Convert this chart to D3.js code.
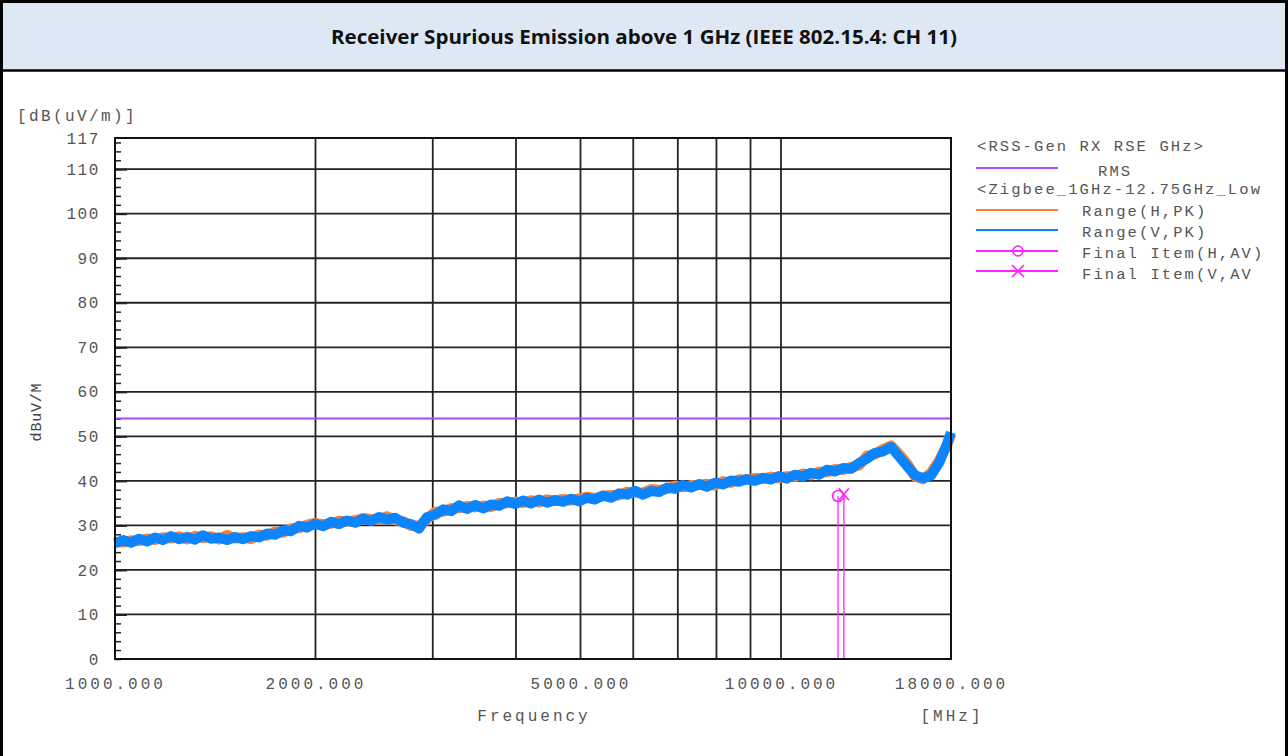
<!DOCTYPE html>
<html>
<head>
<meta charset="utf-8">
<script src="https://cdn.jsdelivr.net/npm/d3@7"></script>
<style>
body{margin:0;background:#fff;}
svg{display:block;}
.mono{font-family:"Liberation Mono","DejaVu Sans Mono",monospace;fill:#555;}
</style>
</head>
<body>
<svg id="svg0" width="1288" height="756"></svg>
<script>
// frequencies in MHz (sweep points)
var freqs=[1000,1028,1057,1086,1117,1148,1180,1213,1247,1283,1319,1356,1394,1433,1473,1514,1557,1600,1645,1692,
1739,1788,1838,1889,1942,1997,2053,2110,2169,2230,2294,2358,2424,2492,2562,2634,2708,2784,2862,2942,
3025,3110,3197,3286,3378,3473,3571,3671,3774,3879,3987,4099,4214,4332,4454,4578,4707,4839,4974,5114,
5257,5404,5556,5712,5872,6036,6206,6380,6558,6742,6932,7126,7326,7531,7742,7959,8183,8412,8648,8890,
9141,9397,9661,9931,10210,10496,10790,11093,11404,11724,12054,12392,12739,13096,13463,13841,14229,14628,15038,15460,
15893,16339,16797,17268,17755,18000];
// Range(V,PK) dBuV/m
var rangeV=[26.0,26.7,26.1,27.0,26.4,27.3,26.7,27.6,26.9,27.4,26.8,27.8,27.0,27.3,26.7,27.4,26.9,27.6,27.3,28.2,
27.9,28.9,28.7,29.9,29.5,30.4,29.8,30.8,30.3,31.1,30.6,31.5,31.0,31.9,31.3,31.7,30.6,30.3,29.3,31.9,
32.4,33.6,33.2,34.5,33.7,34.6,33.8,34.7,34.4,35.4,34.8,35.6,34.9,35.8,35.1,35.7,35.3,36.0,35.4,36.2,
35.8,36.7,36.2,37.2,36.9,37.8,36.9,37.7,37.5,38.5,38.2,39.1,38.5,39.3,38.7,39.6,39.2,40.1,39.8,40.4,
40.0,40.7,40.3,41.1,40.5,41.4,41.0,41.8,41.4,42.5,42.1,42.9,42.7,44.0,45.0,46.3,46.6,47.6,45.5,43.3,
41.3,40.6,41.2,44.0,48.3,50.9];
// Range(H,PK) dBuV/m
var rangeH=[26.3,26.2,26.6,26.5,27.0,26.8,27.3,27.1,27.5,26.9,27.6,27.2,27.5,26.9,27.8,27.1,27.3,27.0,27.9,27.7,
28.6,28.4,29.3,29.4,30.1,30.5,30.2,30.4,31.0,30.9,31.1,31.6,31.4,31.3,32.0,31.2,30.9,29.9,29.9,31.4,
33.0,33.1,33.8,33.9,34.3,34.1,34.4,34.2,35.0,35.0,35.3,35.1,35.6,35.2,35.8,35.5,35.9,35.6,36.0,36.4,
36.1,36.6,36.8,36.8,37.5,37.4,37.3,38.1,37.9,38.2,38.9,38.6,39.0,39.1,39.3,39.0,39.9,39.6,40.3,40.2,
40.6,40.5,40.9,40.6,41.0,41.0,41.6,41.3,42.0,42.0,42.6,42.5,43.1,43.5,45.6,46.0,47.1,47.9,46.0,43.9,
41.0,40.4,41.8,44.5,48.0,50.6];
var limitRMS=54;
var finalH={f:12180,v:36.6};
var finalV={f:12430,v:37.0};
var yTicks=[0,10,20,30,40,50,60,70,80,90,100,110,117];
var xTicks=[1000,2000,5000,10000,18000];
var xGrid=[2000,3000,4000,5000,6000,7000,8000,9000,10000];
var yGrid=[10,20,30,40,50,60,70,80,90,100,110];

var svg=d3.select("#svg0");
var x=d3.scaleLog().domain([1000,18000]).range([115,951]);
var y=d3.scaleLinear().domain([0,117]).range([659,138]);

// title band
svg.append("rect").attr("x",2).attr("y",2).attr("width",1284).attr("height",68).style("fill","#dde8f4");
svg.append("text").attr("x",644).attr("y",44).attr("text-anchor","middle")
   .attr("textLength",626).attr("lengthAdjust","spacingAndGlyphs")
   .style("font-family","'Open Sans',sans-serif").style("font-weight","bold").style("font-size","19.5px").style("fill","#111")
   .text("Receiver Spurious Emission above 1 GHz (IEEE 802.15.4: CH 11)");
svg.append("line").attr("x1",0).attr("x2",1288).attr("y1",1.5).attr("y2",1.5).style("stroke","#000").style("stroke-width",3);
svg.append("line").attr("x1",0).attr("x2",1288).attr("y1",70.5).attr("y2",70.5).style("stroke","#000").style("stroke-width",2.5);
svg.append("line").attr("x1",1.5).attr("x2",1.5).attr("y1",0).attr("y2",756).style("stroke","#000").style("stroke-width",3);
svg.append("line").attr("x1",1286.5).attr("x2",1286.5).attr("y1",0).attr("y2",756).style("stroke","#000").style("stroke-width",3);

// grid
var g=svg.append("g");
g.selectAll(".vg").data(xGrid).enter().append("line")
   .attr("x1",function(d){return x(d);}).attr("x2",function(d){return x(d);})
   .attr("y1",y(117)).attr("y2",y(0)).style("stroke","#222").style("stroke-width",1.8);
g.selectAll(".hg").data(yGrid).enter().append("line")
   .attr("x1",x(1000)).attr("x2",x(18000))
   .attr("y1",function(d){return y(d);}).attr("y2",function(d){return y(d);})
   .style("stroke","#222").style("stroke-width",1.8);

// minor ticks on left axis (every 2 dB, inside)
var minor=svg.append("g").attr("transform","translate("+x(1000)+",0)")
   .call(d3.axisRight(y).tickValues(d3.range(0,117,2)).tickSize(6).tickFormat(""));
minor.select(".domain").remove();
minor.selectAll("line").style("stroke","#222").style("stroke-width",1.5);
var major=svg.append("g").attr("transform","translate("+x(1000)+",0)")
   .call(d3.axisRight(y).tickValues(yGrid).tickSize(12).tickFormat(""));
major.select(".domain").remove();
major.selectAll("line").style("stroke","#222").style("stroke-width",2);

// y labels
var ya=svg.append("g").attr("transform","translate(100,0)")
   .call(d3.axisLeft(y).tickValues(yTicks).tickSize(0).tickPadding(0));
ya.select(".domain").remove();
ya.selectAll("text").attr("class","mono").style("font-size","16px").style("letter-spacing","1.6px");

// x labels
var xa=svg.append("g").attr("transform","translate(0,"+y(0)+")")
   .call(d3.axisBottom(x).tickValues(xTicks).tickSize(0).tickPadding(19).tickFormat(d3.format(".3f")));
xa.select(".domain").remove();
xa.selectAll("text").attr("class","mono").style("font-size","16px").style("letter-spacing","3px");

svg.append("text").attr("class","mono").attr("x",17).attr("y",121).style("font-size","16px").style("letter-spacing","2.4px").text("[dB(uV/m)]");
svg.append("text").attr("class","mono").attr("x",534).attr("y",721).attr("text-anchor","middle").style("font-size","16px").style("letter-spacing","3px").text("Frequency");
svg.append("text").attr("class","mono").attr("x",952).attr("y",721).attr("text-anchor","middle").style("font-size","16px").style("letter-spacing","3px").text("[MHz]");
svg.append("text").attr("class","mono").attr("transform","translate(41,412) rotate(-90)").attr("text-anchor","middle")
   .style("font-size","15px").style("letter-spacing","0.8px").style("fill","#444").text("dBuV/M");

// traces
var line=d3.line().x(function(d){return x(d[0]);}).y(function(d){return y(d[1]);});
svg.append("path").datum(d3.zip(freqs,rangeH)).attr("d",line)
   .style("fill","none").style("stroke","#f5823c").style("stroke-width",10.5).style("stroke-linejoin","round");
svg.append("path").datum(d3.zip(freqs,rangeV)).attr("d",line)
   .style("fill","none").style("stroke","#0a84ff").style("stroke-width",10).style("stroke-linejoin","round");

// limit line
svg.append("line").attr("x1",x(1000)).attr("x2",x(18000)).attr("y1",y(limitRMS)).attr("y2",y(limitRMS))
   .style("stroke","#a64df5").style("stroke-width",2);

// final items
var mag="#ff22ff";
[finalH,finalV].forEach(function(d){
  svg.append("line").attr("x1",x(d.f)).attr("x2",x(d.f)).attr("y1",y(d.v)).attr("y2",y(0))
     .style("stroke",mag).style("stroke-width",1.3);
});
svg.append("circle").attr("cx",x(finalH.f)).attr("cy",y(finalH.v)).attr("r",5.5)
   .style("fill","none").style("stroke",mag).style("stroke-width",1.6);
svg.append("path").attr("transform","translate("+x(finalV.f)+","+y(finalV.v)+")")
   .attr("d","M-5,-6L5,6M-5,6L5,-6").style("stroke",mag).style("stroke-width",1.6);

// plot frame
svg.append("rect").attr("x",x(1000)).attr("y",y(117)).attr("width",x(18000)-x(1000)).attr("height",y(0)-y(117))
   .style("fill","none").style("stroke","#111").style("stroke-width",2);

// legend
var leg=[
  {t:"<RSS-Gen RX RSE GHz>",y:151,head:true},
  {t:"RMS",y:176,c:"#a64df5",ly:168,tx:1098},
  {t:"<Zigbee_1GHz-12.75GHz_Low",y:194,head:true},
  {t:"Range(H,PK)",y:216,c:"#f5823c",ly:210,tx:1082},
  {t:"Range(V,PK)",y:237,c:"#0a84ff",ly:230,tx:1082},
  {t:"Final Item(H,AV)",y:258,c:mag,ly:251,tx:1082,m:"o"},
  {t:"Final Item(V,AV",y:279,c:mag,ly:271,tx:1082,m:"x"}
];
leg.forEach(function(d){
  svg.append("text").attr("class","mono").attr("x",d.head?977:d.tx).attr("y",d.y)
     .style("font-size","15.5px").style("letter-spacing","2.1px").text(d.t);
  if(d.c){
    svg.append("line").attr("x1",976).attr("x2",1058).attr("y1",d.ly).attr("y2",d.ly)
       .style("stroke",d.c).style("stroke-width",2);
    if(d.m=="o") svg.append("circle").attr("cx",1018).attr("cy",d.ly).attr("r",5).style("fill","none").style("stroke",d.c).style("stroke-width",1.6);
    if(d.m=="x") svg.append("path").attr("transform","translate(1018,"+d.ly+")").attr("d","M-6,-6L6,6M-6,6L6,-6").style("stroke",d.c).style("stroke-width",1.6);
  }
});
</script>
</body>
</html>
